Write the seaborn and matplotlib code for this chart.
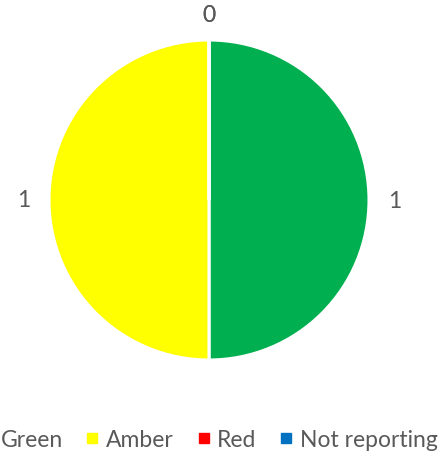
import matplotlib
matplotlib.use("Agg")
import matplotlib.pyplot as plt
from matplotlib.lines import Line2D
import seaborn as sns

sns.set_theme(style="white")
plt.rcParams["font.family"] = ["Lato", "DejaVu Sans"]

# RAG status counts
categories = ["Green", "Amber", "Red", "Not reporting"]
counts = [1, 1, 0, 0]
colors = ["#00B050", "#FFFF00", "#FF0000", "#0070C0"]
text_color = "#595959"

W, H = 438, 456
fig = plt.figure(figsize=(W / 100, H / 100), dpi=100)
fig.patch.set_facecolor("white")

# Pie occupies a square of radius 160 px centred at (209, 201) from top-left
cx, cy, r = 209, 201, 160
ax = fig.add_axes([(cx - r) / W, (H - cy - r) / H, 2 * r / W, 2 * r / H])

wedges, texts = ax.pie(
    counts,
    colors=colors,
    labels=[str(v) for v in counts],
    startangle=90,
    counterclock=False,
    labeldistance=1.16,
    radius=1,
    wedgeprops=dict(edgecolor="white", linewidth=2.2),
    textprops=dict(color=text_color, fontsize=16.5),
)
for t in texts:
    t.set_ha("center")
    t.set_va("center")

ax.set_xlim(-1, 1)
ax.set_ylim(-1, 1)
ax.set_aspect("equal")
ax.axis("off")

handles = [
    Line2D([0], [0], marker="s", linestyle="none", markersize=7,
           markerfacecolor=c, markeredgecolor=c)
    for c in colors
]
fig.legend(
    handles, categories,
    loc="center left",
    bbox_to_anchor=(-18 / W, 15 / H),
    ncol=4,
    frameon=False,
    fontsize=16.5,
    labelcolor=text_color,
    handlelength=0.43,
    handletextpad=0.38,
    columnspacing=1.08,
    borderpad=0,
    borderaxespad=0,
)

fig.savefig("out.png", dpi=100, facecolor="white")
